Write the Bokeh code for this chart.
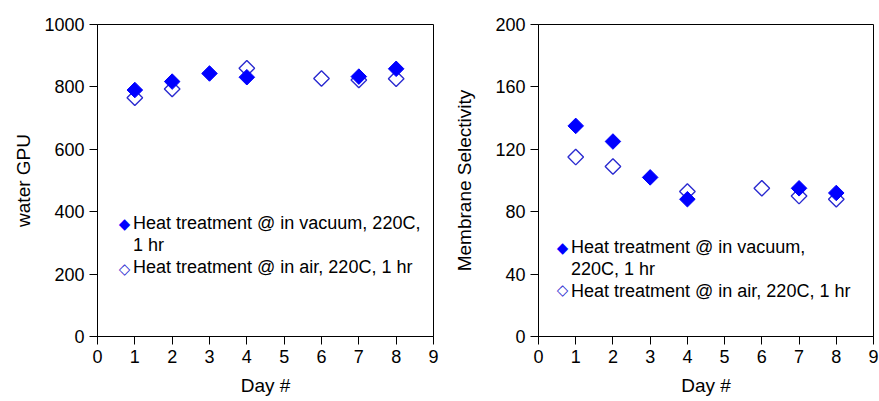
from bokeh.plotting import figure
from bokeh.layouts import row
from bokeh.models import (ColumnDataSource, Range1d, FixedTicker, Legend, LegendItem, Label)
from bokeh.embed import file_html
from bokeh.resources import INLINE
import math

# Measurements over eight days for two heat-treatment conditions
days_vacuum = [1, 2, 3, 4, 7, 8]
days_air = [1, 2, 4, 6, 7, 8]

gpu_vacuum = [790, 817, 843, 831, 833, 858]
gpu_air = [765, 793, 860, 827, 822, 826]

sel_vacuum = [135, 125, 102, 88, 95, 92]
sel_air = [115, 109, 93, 95, 90, 88]

x_ticks = list(range(0, 10))
gpu_ticks = [0, 200, 400, 600, 800, 1000]
sel_ticks = [0, 40, 80, 120, 160, 200]

FONT = "Liberation Sans"
FILL_BLUE = "#0000ff"
OPEN_BLUE = "#2b2bd0"


def make_panel(width, border_left, border_right, y_max, y_ticks, y_label,
               y_vac, y_air, label_standoff, legend_lines, legend_xy, key_x, key_y):
    p = figure(width=width, height=401, output_backend="svg", toolbar_location=None,
               x_range=Range1d(0, 9), y_range=Range1d(0, y_max),
               min_border_left=border_left, min_border_right=border_right,
               min_border_top=24, min_border_bottom=65)
    p.background_fill_color = "white"
    p.border_fill_color = "white"
    p.outline_line_color = "black"
    p.outline_line_width = 1
    p.grid.visible = False

    for ax in (p.xaxis[0], p.yaxis[0]):
        ax.axis_line_color = "black"
        ax.major_tick_line_color = "black"
        ax.major_tick_out = 8
        ax.major_tick_in = 0
        ax.minor_tick_line_color = None
        ax.major_label_text_font = FONT
        ax.major_label_text_font_size = "18px"
        ax.major_label_text_color = "black"
        ax.axis_label_text_font = FONT
        ax.axis_label_text_font_size = "19px"
        ax.axis_label_text_font_style = "normal"
        ax.axis_label_text_color = "black"
        ax.major_label_standoff = 5

    p.xaxis.ticker = FixedTicker(ticks=x_ticks)
    p.yaxis.ticker = FixedTicker(ticks=y_ticks)
    p.xaxis.axis_label = "Day #"
    p.xaxis.axis_label_standoff = 9
    p.yaxis.axis_label = y_label
    p.yaxis.axis_label_standoff = label_standoff

    src_air = ColumnDataSource(dict(x=days_air, y=y_air))
    src_vac = ColumnDataSource(dict(x=days_vacuum, y=y_vac))

    # open diamonds first so the filled ones sit on top where they overlap
    p.scatter("x", "y", source=src_air, marker="square", size=11,
              angle=math.pi / 4, fill_color="white", fill_alpha=0,
              line_color=OPEN_BLUE, line_width=1.4)
    p.scatter("x", "y", source=src_vac, marker="square", size=11,
              angle=math.pi / 4, fill_color=FILL_BLUE,
              line_color=FILL_BLUE, line_width=1)
    # zero-size renderer: the legend keys are drawn as diamond characters below
    r_blank = p.scatter("x", "y", source=src_vac, marker="square", size=0,
                        fill_alpha=0, line_alpha=0)

    legend = Legend(items=[LegendItem(label=t, renderers=[r_blank]) for t in legend_lines],
                    location=legend_xy)
    legend.label_text_font = FONT
    legend.label_text_font_size = "18px"
    legend.label_text_color = "black"
    legend.glyph_width = 18
    legend.glyph_height = 21
    legend.label_height = 21
    legend.label_standoff = 0
    legend.spacing = 1
    legend.padding = 0
    legend.margin = 0
    legend.border_line_alpha = 0
    legend.background_fill_alpha = 0
    p.add_layout(legend)

    for sym, color, ky in (("\u25c6", FILL_BLUE, key_y[0]), ("\u25c7", OPEN_BLUE, key_y[1])):
        p.add_layout(Label(x=key_x, y=ky, x_units="screen", y_units="screen", text=sym,
                           text_font="DejaVu Sans", text_font_size="15px",
                           text_color=color, text_align="center",
                           text_baseline="middle"))
    return p


left = make_panel(440, 97, 7, 1000, gpu_ticks, "water GPU", gpu_vacuum, gpu_air, 7,
                  ["Heat treatment @ in vacuum, 220C,", "1 hr",
                   "Heat treatment @ in air, 220C, 1 hr"], (18, 58), 27, (113, 68))
right = make_panel(439, 98, 6, 200, sel_ticks, "Membrane Selectivity", sel_vacuum, sel_air, 17,
                   ["Heat treatment @ in vacuum,", "220C, 1 hr",
                    "Heat treatment @ in air, 220C, 1 hr"], (15, 34), 24, (89, 47))

layout = row(left, right, spacing=0)
open("out.html", "w").write(file_html(layout, INLINE))
